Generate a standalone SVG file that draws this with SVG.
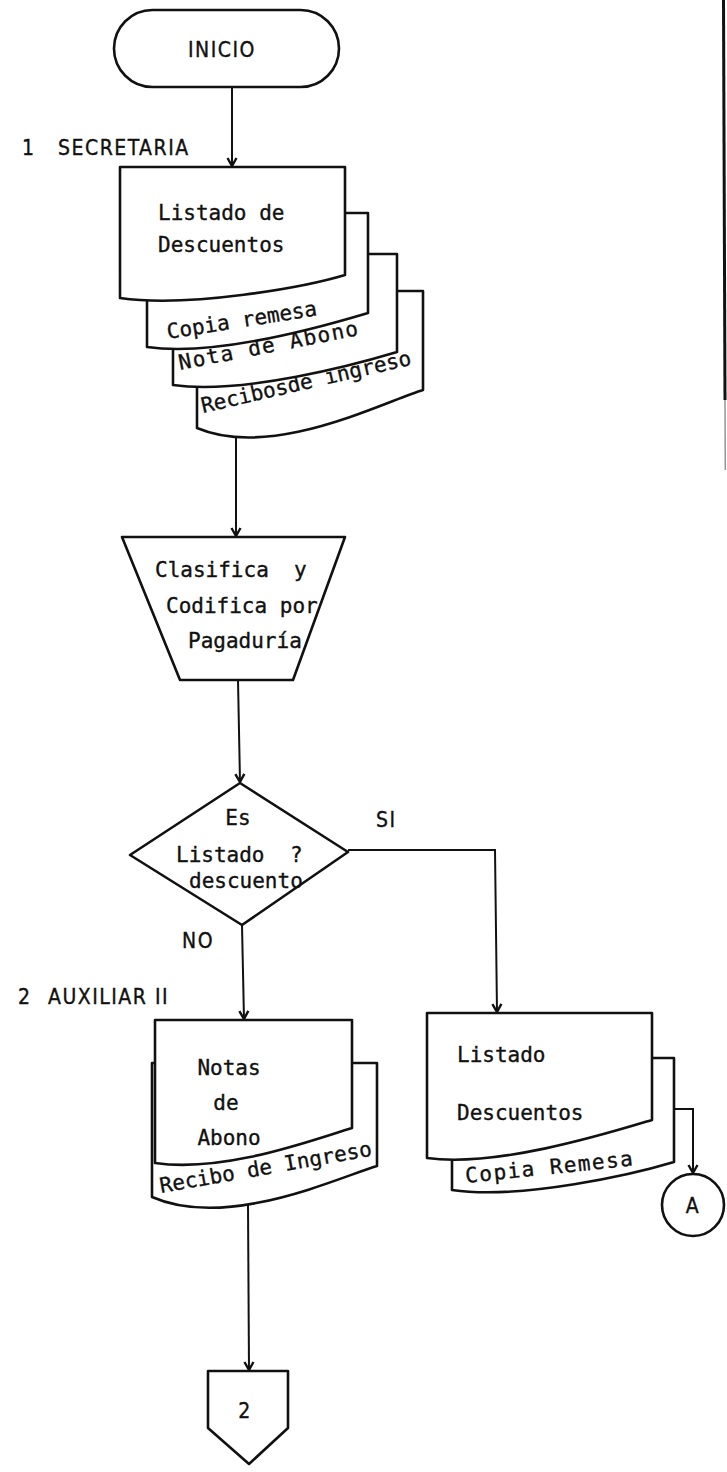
<svg xmlns="http://www.w3.org/2000/svg" width="727" height="1472" viewBox="0 0 727 1472">
  <style>
    .shape { fill: #fff; stroke: #111; stroke-width: 2.6; stroke-linejoin: round; }
    .line { fill: none; stroke: #111; stroke-width: 2; }
    .mono { font-family: "DejaVu Sans Mono", "Liberation Mono", monospace; font-size: 21px; fill: #111; stroke: #111; stroke-width: 0.35; }
    .cap { font-family: "DejaVu Sans Condensed", "Liberation Sans", sans-serif; font-size: 21px; letter-spacing: 1.5px; fill: #111; stroke: #111; stroke-width: 0.35; }
  </style>
  <defs>
    <marker id="arrow" markerUnits="userSpaceOnUse" viewBox="0 0 12 12" refX="11" refY="6" markerWidth="12" markerHeight="12" orient="auto">
      <path d="M3,1.5 L11,6 L3,10.5" fill="none" stroke="#111" stroke-width="2.4"/>
    </marker>
  </defs>

  <rect width="727" height="1472" fill="#fff"/>

  <!-- page border fragment on the right -->
  <line x1="723.5" y1="0" x2="725" y2="400" stroke="#111" stroke-width="3"/>
  <line x1="725" y1="400" x2="725.3" y2="470" stroke="#111" stroke-width="1.5" stroke-opacity="0.45"/>

  <!-- connectors -->
  <g id="connectors">
    <path class="line" d="M232,87 V166" marker-end="url(#arrow)"/>
    <path class="line" d="M236,437 V536" marker-end="url(#arrow)"/>
    <path class="line" d="M238,680 L240,782" marker-end="url(#arrow)"/>
    <path class="line" d="M348,850 H495 L497,1012" marker-end="url(#arrow)"/>
    <path class="line" d="M242,925 L244,1019" marker-end="url(#arrow)"/>
    <path class="line" d="M248,1204 L249,1370" marker-end="url(#arrow)"/>
    <path class="line" d="M647,1109 H693 V1173" marker-end="url(#arrow)"/>
    <circle cx="647" cy="1109" r="2.4" fill="#111"/>
    <circle cx="669" cy="1109" r="2.4" fill="#111"/>
  </g>

  <!-- start terminal -->
  <g id="inicio">
    <rect class="shape" x="114" y="10" width="225" height="77" rx="38.5" ry="38.5"/>
    <text class="cap" x="222" y="57" text-anchor="middle" letter-spacing="3">INICIO</text>
  </g>

  <!-- section labels -->
  <g id="lbl-secretaria">
    <text class="cap" x="22" y="155">1</text>
    <text class="cap" x="58" y="155" letter-spacing="0.4">SECRETARIA</text>
  </g>
  <g id="lbl-auxiliar">
    <text class="cap" x="18" y="1004">2</text>
    <text class="cap" x="48" y="1004" letter-spacing="0.5">AUXILIAR II</text>
  </g>

  <!-- stacked documents, back to front -->
  <g id="doc-recibos">
    <path class="shape" d="M197,291 H423 V390 C383,402 272,460 197,428 Z"/>
    <text class="mono" font-size="18.5" transform="translate(203,413) rotate(-13)">Recibosde ingreso</text>
  </g>
  <g id="doc-nota-abono">
    <path class="shape" d="M173,254 H397 V352 C357,364 243,395 173,385 Z"/>
    <text class="mono" letter-spacing="1.5" transform="translate(180,370) rotate(-11)">Nota de Abono</text>
  </g>
  <g id="doc-copia-remesa">
    <path class="shape" d="M147,213 H368 V313 C328,325 217,357 147,347 Z"/>
    <text class="mono" transform="translate(168,339) rotate(-9)">Copia remesa</text>
  </g>
  <g id="doc-listado">
    <path class="shape" d="M120,167 H345 V275 C305,287 190,308 120,298 Z"/>
    <text class="mono" x="158" y="220">Listado de</text>
    <text class="mono" x="158" y="252">Descuentos</text>
  </g>

  <!-- manual operation -->
  <g id="clasifica">
    <path class="shape" d="M122,537 H345 L293,680 H180 Z"/>
    <text class="mono" x="155" y="577" xml:space="preserve">Clasifica  y</text>
    <text class="mono" x="166" y="613">Codifica por</text>
    <text class="mono" x="188" y="648">Pagaduría</text>
  </g>

  <!-- decision -->
  <g id="decision">
    <path class="shape" d="M240,783 L348,852 L242,925 L130,855 Z"/>
    <text class="mono" x="238" y="825" text-anchor="middle">Es</text>
    <text class="mono" x="176" y="862">Listado</text>
    <text class="mono" x="290" y="862">?</text>
    <text class="mono" x="189" y="888">descuento</text>
  </g>
  <text class="cap" x="376" y="827">SI</text>
  <text class="cap" x="182" y="948">NO</text>

  <!-- NO branch documents -->
  <g id="doc-recibo-ingreso">
    <path class="shape" d="M152,1063 H377 V1166 C337,1178 227,1230 152,1197 Z"/>
    <text class="mono" transform="translate(161,1193) rotate(-10)">Recibo de Ingreso</text>
  </g>
  <g id="doc-notas-abono">
    <path class="shape" d="M155,1020 H352 V1128 C312,1140 225,1173 155,1163 Z"/>
    <text class="mono" x="229" y="1075" text-anchor="middle">Notas</text>
    <text class="mono" x="226" y="1110" text-anchor="middle">de</text>
    <text class="mono" x="229" y="1145" text-anchor="middle">Abono</text>
  </g>

  <!-- SI branch documents -->
  <g id="doc-copia-remesa-2">
    <path class="shape" d="M452,1058 H674 V1162 C634,1174 522,1200 452,1190 Z"/>
    <text class="mono" letter-spacing="1.5" transform="translate(466,1183) rotate(-6)">Copia Remesa</text>
  </g>
  <g id="doc-listado-2">
    <path class="shape" d="M427,1013 H652 V1120 C612,1132 497,1168 427,1158 Z"/>
    <text class="mono" x="457" y="1062">Listado</text>
    <text class="mono" x="457" y="1120">Descuentos</text>
  </g>

  <!-- connectors to other pages -->
  <g id="conn-a">
    <circle class="shape" cx="693" cy="1205" r="31"/>
    <text class="cap" x="693" y="1213" text-anchor="middle">A</text>
  </g>
  <g id="offpage-2">
    <path class="shape" d="M208,1371 H288 V1428 L249,1464 L208,1428 Z"/>
    <text class="cap" x="245" y="1418" text-anchor="middle">2</text>
  </g>
</svg>
